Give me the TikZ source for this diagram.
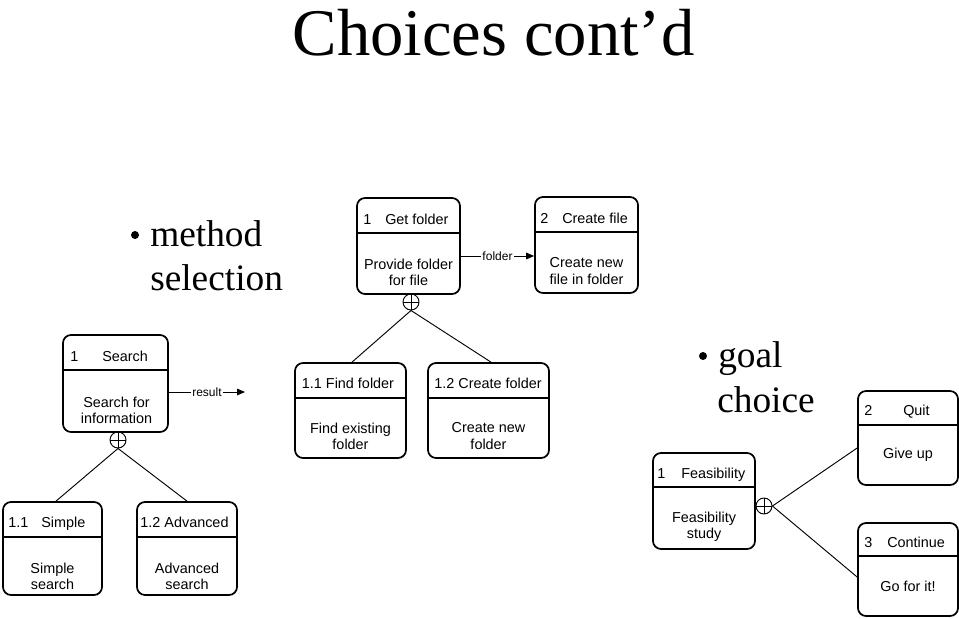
\documentclass[tikz,border=0pt]{standalone}
\usepackage{fontspec}
\setmainfont{Liberation Serif}
\newfontfamily\arialf{Liberation Sans}
\usetikzlibrary{fit,arrows.meta}
\newcommand\procbox[5]{% name, (x1,y1), (x2,y2), divider y
  \node[boxstyle, fit={#2 #3}] (#1) {};
  \draw[divline] (#1.west |- 0,#4) -- (#1.east |- 0,#4);
}
\begin{document}
\begin{tikzpicture}[x=0.75pt,y=-0.75pt,
  boxstyle/.style={draw, rounded corners=6pt, inner sep=0pt, line width=1.3pt},
  divline/.style={line width=1.3pt},
  hd/.style={inner sep=0pt, font=\arialf\fontsize{10.8}{13}\selectfont},
  bd/.style={inner sep=0pt, align=center, font=\arialf\fontsize{10.8}{12.2}\selectfont},
  lbl/.style={inner sep=1pt, fill=white, font=\arialf\fontsize{9}{10}\selectfont},
  conn/.style={line width=0.7pt},
  arr/.style={line width=0.7pt, -{Triangle[length=6pt,width=5pt]}},
  xorst/.style={circle, draw, line width=0.7pt, minimum size=12pt, inner sep=0pt,
    path picture={\draw[line width=0.7pt] (path picture bounding box.north) -- (path picture bounding box.south)
      (path picture bounding box.west) -- (path picture bounding box.east);}},
  bigtxt/.style={inner sep=0pt, font=\fontsize{28}{34}\selectfont},
  bul/.style={circle, fill=black, inner sep=0pt, minimum size=6pt}
]
\useasboundingbox (0,0) rectangle (959,618);

% title
\node[inner sep=0pt, anchor=base, font=\fontsize{50}{60}\selectfont] (title) at (493.5,55) {Choices cont’d};

% method selection
\node[bul] (b1) at (135,235) {};
\node[bigtxt, anchor=base west] (ms1) at (150,246) {method};
\node[bigtxt, anchor=base west] (ms2) at (150,290) {selection};

% goal choice
\node[bul] (b2) at (703,356) {};
\node[bigtxt, anchor=base west] (gc1) at (718,367) {goal};
\node[bigtxt, anchor=base west] (gc2) at (717,412) {choice};

% top boxes
\procbox{gf}{(357,198)}{(460,294)}{233}{}
\node[hd, anchor=base west] (gfa) at (363,224) {1};
\node[hd, anchor=base west] (gfb) at (385,224) {Get folder};
\node[bd] (gfc) at (408.5,272) {Provide folder\\for file};

\procbox{cf}{(535,197)}{(638,293)}{232}{}
\node[hd, anchor=base west] (cfa) at (540,223) {2};
\node[hd, anchor=base west] (cfb) at (562,223) {Create file};
\node[bd] (cfc) at (586.5,271) {Create new\\file in folder};

\draw[arr] (gf.east |- 0,256) -- node[lbl] (flbl) {folder} (cf.west |- 0,256);

\node[xorst] (x1) at (411,302) {};

\procbox{ff}{(295,363)}{(406,458)}{398}{}
\node[hd, anchor=base] (ffa) at (348,388) {1.1 Find folder};
\node[bd] (ffc) at (350.5,436) {Find existing\\folder};

\procbox{cfo}{(428,363)}{(549,458)}{398}{}
\node[hd, anchor=base] (cfoa) at (488,388) {1.2 Create folder};
\node[bd] (cfoc) at (488.5,436) {Create new\\folder};

\draw[conn] (x1.south) -- (ff.north -| 352,0);
\draw[conn] (x1.south) -- (cfo.north -| 491,0);

% search
\procbox{se}{(63,335)}{(168,432)}{370}{}
\node[hd, anchor=base west] (sea) at (70,361) {1};
\node[hd, anchor=base west] (seb) at (102,361) {Search};
\node[bd] (sec) at (116.5,410) {Search for\\information};

\coordinate (rend) at (245,392);
\draw[arr] (se.east |- rend) -- node[lbl] (rlbl) {result} (rend);

\node[xorst] (x2) at (118,440) {};

\procbox{si}{(3,502)}{(102,595)}{537}{}
\node[hd, anchor=base west] (sia) at (8,527) {1.1};
\node[hd, anchor=base west] (sib) at (41,527) {Simple};
\node[bd] (sic) at (52.5,576) {Simple\\search};

\procbox{ad}{(137,502)}{(237,595)}{537}{}
\node[hd, anchor=base] (ada) at (184.5,527) {1.2 Advanced};
\node[bd] (adc) at (187,576) {Advanced\\search};

\draw[conn] (x2.south) -- (si.north -| 56,0);
\draw[conn] (x2.south) -- (ad.north -| 187,0);

% goal choice boxes
\procbox{fe}{(653,453)}{(755,549)}{487}{}
\node[hd, anchor=base west] (fea) at (657,478) {1};
\node[hd, anchor=base west] (feb) at (681,478) {Feasibility};
\node[bd] (fec) at (704,527) {Feasibility\\study};

\procbox{qu}{(858,391)}{(958,485)}{425}{}
\node[hd, anchor=base west] (qua) at (864,415) {2};
\node[hd, anchor=base west] (qub) at (903,415) {Quit};
\node[bd] (quc) at (908,455) {Give up};

\procbox{co}{(858,523)}{(958,616)}{556}{}
\node[hd, anchor=base west] (coa) at (864,547) {3};
\node[hd, anchor=base west] (cob) at (887,547) {Continue};
\node[bd] (coc) at (908,586) {Go for it!};

\node[xorst] (x3) at (764,506) {};
\draw[conn] (x3.east) -- (qu.west |- 0,448);
\draw[conn] (x3.east) -- (co.west |- 0,577);
\end{tikzpicture}
\end{document}
